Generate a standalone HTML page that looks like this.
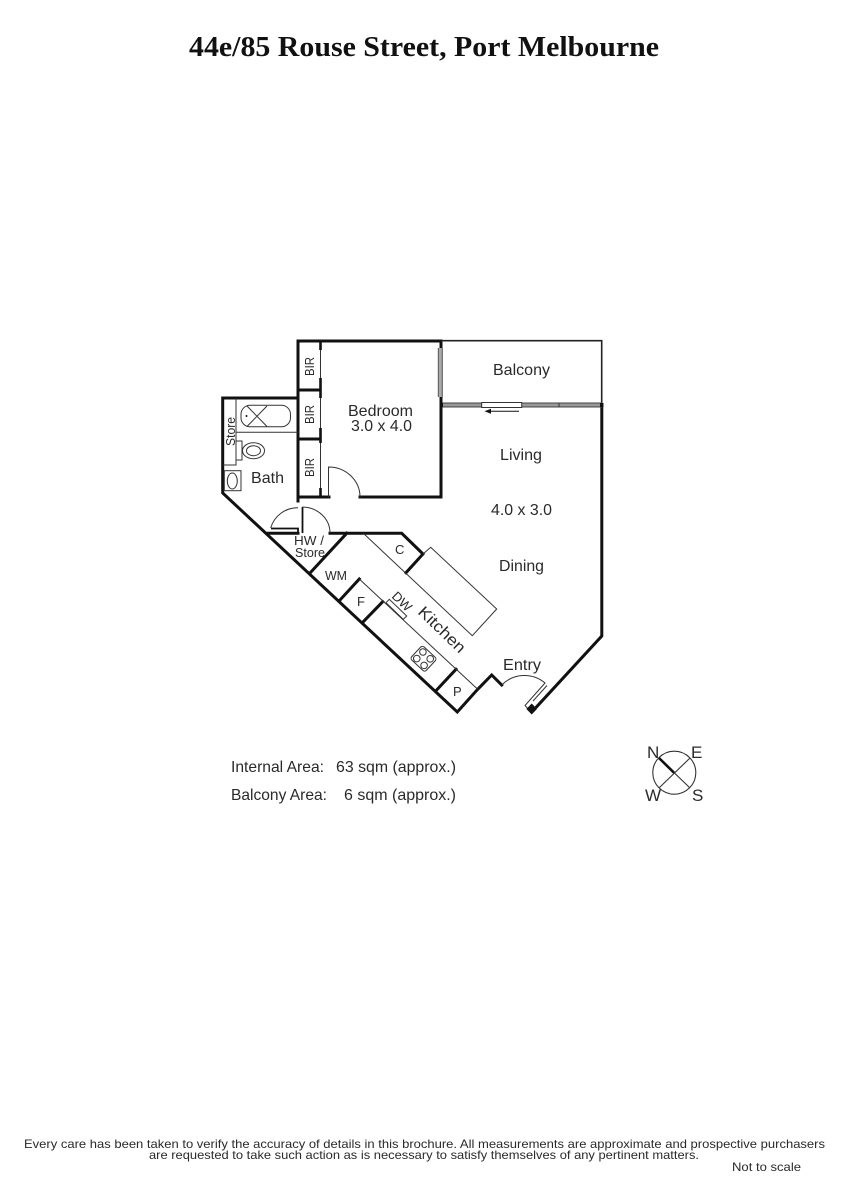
<!DOCTYPE html>
<html><head><meta charset="utf-8"><style>
html,body{margin:0;padding:0;background:#fff;width:848px;height:1200px;overflow:hidden}
svg{display:block}
text{font-family:"Liberation Sans",sans-serif;fill:#2a2a2a;font-size:16px}
.t{fill:none;stroke:#111;stroke-width:3;stroke-linecap:square;stroke-linejoin:miter}
.n{fill:none;stroke:#333;stroke-width:1}
.m{fill:none;stroke:#111;stroke-width:1.8}
.f{font-size:12px}
.a{font-size:16px}
.s{font-size:13px}
</style></head><body>
<svg width="848" height="1200" viewBox="0 0 848 1200" xmlns="http://www.w3.org/2000/svg">
<text x="189" y="56" textLength="470" lengthAdjust="spacingAndGlyphs" style="font-family:'Liberation Serif',serif;font-weight:bold;font-size:29px;fill:#111">44e/85 Rouse Street, Port Melbourne</text>

<!-- outer walls -->
<path class="t" d="M298 398V341H441V348"/>
<path class="t" d="M441 397V497H360"/>
<path class="t" d="M329 497H298V390"/>
<path class="t" d="M298 398H222.7V493L457.3 712L477.7 689.3L491.7 675L501.7 685"/>
<path class="t" d="M298 497V501"/>
<path class="t" d="M298 439H320M298 390H320"/>
<path class="t" d="M601.8 405V636L536.7 706.7"/>
<path class="m" d="M271 528.5H298V533"/>
<path class="t" d="M268 533.3H298M330 533.3H401.7L423 554L406 572.7"/>
<path class="m" d="M302.5 507V533"/>
<path class="t" d="M346.7 533.3L310 573"/>
<path class="t" d="M340 600L359.3 579M363.3 621.7L382.7 601.7M435.7 691L456 669.3"/>
<!-- BIR doors -->
<path class="n" d="M320.5 341V497"/>
<path d="M320.5 341V350M320.5 378V398M320.5 428V443M320.5 488V497" fill="none" stroke="#111" stroke-width="2.6"/>
<!-- doors -->
<path class="n" d="M328.5 497V467A31.5 30 0 0 1 360 497"/>
<path class="n" d="M298 507.7A28 28 0 0 0 270.7 528"/>
<path class="n" d="M302.5 507A28 26 0 0 1 330 533"/>
<!-- bath fixtures -->
<path class="n" d="M236 398V465H223M236 432.3H298"/>
<rect class="n" x="241" y="405.3" width="49.5" height="21.5" rx="9"/>
<path class="n" d="M247 406L267 426.5M247 426.5L267 406"/>
<circle cx="246.5" cy="416" r="1" fill="#111"/>
<rect class="n" x="224.3" y="470.7" width="16.7" height="20"/>
<ellipse class="n" cx="232.3" cy="481" rx="5" ry="8"/>
<rect class="n" x="236" y="441" width="6" height="19"/>
<ellipse class="n" cx="253.5" cy="450.7" rx="11" ry="8"/>
<ellipse class="n" cx="253.5" cy="450.7" rx="7" ry="5"/>
<!-- balcony -->
<path d="M441 340.7H601.7V405" fill="none" stroke="#222" stroke-width="1.6"/>
<path d="M440.3 348V397" stroke="#555" stroke-width="5" fill="none"/>
<path d="M440.3 348V397" stroke="#aaa" stroke-width="3" fill="none"/>
<path d="M442 405H602" stroke="#444" stroke-width="5" fill="none"/>
<path d="M442 405H602" stroke="#999" stroke-width="3" fill="none"/>
<rect x="481.7" y="402.5" width="40" height="5" fill="#fff" stroke="#333" stroke-width="1"/>
<path d="M559 403V407" stroke="#333" stroke-width="1"/>
<rect x="440" y="403" width="3" height="4" fill="#111"/>
<rect x="600" y="403" width="3.5" height="4" fill="#111"/>
<path d="M519 411.3H490" stroke="#111" stroke-width="1"/>
<path d="M484.5 411.3L491 408.8V413.8Z" fill="#111"/>
<!-- kitchen -->
<path class="n" d="M363.3 533.3L472.3 635.7L496.7 609L430.7 547.3L423 554"/>
<path class="n" d="M359.3 579L477.7 689.3"/>
<path class="n" d="M386 602.7L389.3 599.3L406.7 616L403.3 619.3Z" fill="#fff"/>
<g transform="translate(423.5 658.7) rotate(43)">
<rect class="n" x="-10" y="-9" width="20" height="18" rx="2.5"/>
<circle class="n" cx="-5" cy="-4.5" r="3.3"/><circle class="n" cx="5" cy="-4.5" r="3.3"/>
<circle class="n" cx="-5" cy="4.5" r="3.3"/><circle class="n" cx="5" cy="4.5" r="3.3"/>
</g>
<!-- entry door -->
<path class="n" d="M501.7 685A32 32 0 0 1 545 683L525 705.5L530 711M547 685.5L533 701"/>
<path d="M531.7 703.5L537 709L531.7 714.5L526.4 709Z" fill="#111"/>

<!-- labels -->
<text x="348" y="416" textLength="65" lengthAdjust="spacingAndGlyphs">Bedroom</text>
<text x="351" y="431" textLength="61" lengthAdjust="spacingAndGlyphs">3.0 x 4.0</text>
<text x="493" y="375" textLength="57" lengthAdjust="spacingAndGlyphs">Balcony</text>
<text x="500" y="460" textLength="42" lengthAdjust="spacingAndGlyphs">Living</text>
<text x="491" y="515" textLength="61" lengthAdjust="spacingAndGlyphs">4.0 x 3.0</text>
<text x="499" y="571" textLength="45" lengthAdjust="spacingAndGlyphs">Dining</text>
<text x="503" y="670" textLength="38" lengthAdjust="spacingAndGlyphs">Entry</text>
<text x="251" y="483" textLength="33" lengthAdjust="spacingAndGlyphs">Bath</text>
<text transform="translate(235 446) rotate(-90)" class="s" textLength="29" lengthAdjust="spacingAndGlyphs">Store</text>
<text transform="translate(314 376) rotate(-90)" class="s" textLength="19" lengthAdjust="spacingAndGlyphs">BIR</text>
<text transform="translate(314 424) rotate(-90)" class="s" textLength="19" lengthAdjust="spacingAndGlyphs">BIR</text>
<text transform="translate(314 477) rotate(-90)" class="s" textLength="19" lengthAdjust="spacingAndGlyphs">BIR</text>
<text x="294" y="545" class="s" textLength="30" lengthAdjust="spacingAndGlyphs">HW /</text>
<text x="295" y="557" class="s" textLength="30" lengthAdjust="spacingAndGlyphs">Store</text>
<text x="395" y="554" class="s">C</text>
<text x="325" y="580" class="s" textLength="22" lengthAdjust="spacingAndGlyphs">WM</text>
<text x="357" y="606" class="s">F</text>
<text x="453" y="696" class="s">P</text>
<text transform="translate(391 597) rotate(44)" class="s" textLength="22" lengthAdjust="spacingAndGlyphs">DW</text>
<text transform="translate(417 613) rotate(44)" textLength="59" lengthAdjust="spacingAndGlyphs">Kitchen</text>

<text x="231" y="772" class="a" textLength="93" lengthAdjust="spacingAndGlyphs">Internal Area:</text>
<text x="336" y="772" class="a" textLength="120" lengthAdjust="spacingAndGlyphs">63 sqm (approx.)</text>
<text x="231" y="800" class="a" textLength="96" lengthAdjust="spacingAndGlyphs">Balcony Area:</text>
<text x="344" y="800" class="a" textLength="112" lengthAdjust="spacingAndGlyphs">6 sqm (approx.)</text>

<!-- compass -->
<circle cx="674.3" cy="772.7" r="21.5" fill="none" stroke="#333" stroke-width="1.1"/>
<path d="M659 758L690 788M690 758L659 788" stroke="#333" stroke-width="1.1" fill="none"/>
<path d="M659 758L674 772.7" stroke="#111" stroke-width="2.6" fill="none"/>
<text x="647" y="758" style="font-size:17px">N</text>
<text x="691" y="758" style="font-size:17px">E</text>
<text x="645" y="801" style="font-size:17px">W</text>
<text x="692" y="801" style="font-size:17px">S</text>

<text x="24" y="1148" class="f" textLength="801" lengthAdjust="spacingAndGlyphs">Every care has been taken to verify the accuracy of details in this brochure.  All measurements are approximate and prospective purchasers</text>
<text x="149" y="1159" class="f" textLength="550" lengthAdjust="spacingAndGlyphs">are requested to take such action as is necessary to satisfy themselves of any pertinent matters.</text>
<text x="732" y="1171" class="f" textLength="69" lengthAdjust="spacingAndGlyphs">Not to scale</text>
</svg>
</body></html>
